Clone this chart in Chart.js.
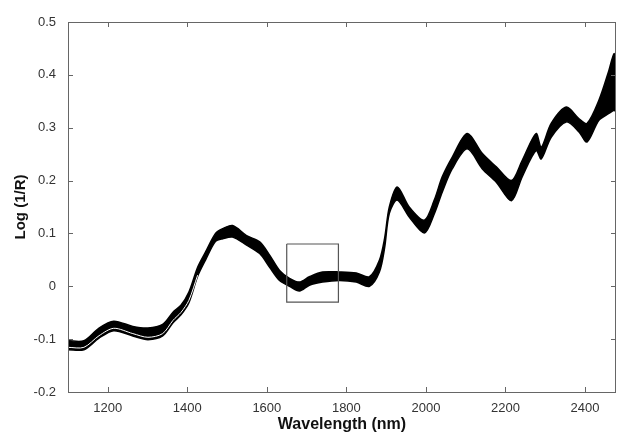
<!DOCTYPE html>
<html>
<head>
<meta charset="utf-8">
<script src="https://cdn.jsdelivr.net/npm/chart.js@4.4.1/dist/chart.umd.min.js"></script>
<style>
  html, body { margin: 0; padding: 0; background: #fff; }
  #wrap { width: 617px; height: 435px; }
</style>
</head>
<body>
<div id="wrap"><canvas id="spectra"></canvas></div>
<script>
const wavelength = [1100, 1140, 1178, 1215, 1263, 1301, 1338, 1364, 1384, 1404, 1426, 1446, 1471, 1489, 1514, 1549, 1582, 1607, 1632, 1657, 1682, 1707, 1740, 1783, 1825, 1858, 1883, 1896, 1908, 1928, 1958, 1996, 2021, 2041, 2066, 2104, 2142, 2177, 2215, 2242, 2277, 2290, 2315, 2353, 2385, 2405, 2435, 2460, 2473, 2478];
// top edge of the bundle of spectra
const upperEdge = [-0.103, -0.103, -0.079, -0.066, -0.076, -0.079, -0.072, -0.049, -0.036, -0.011, 0.036, 0.065, 0.100, 0.109, 0.115, 0.096, 0.084, 0.059, 0.030, 0.015, 0.008, 0.018, 0.027, 0.027, 0.025, 0.018, 0.049, 0.090, 0.150, 0.188, 0.150, 0.125, 0.163, 0.207, 0.244, 0.289, 0.251, 0.226, 0.200, 0.238, 0.289, 0.263, 0.308, 0.339, 0.317, 0.308, 0.352, 0.408, 0.440, 0.425];
// bottom edge (lowest spectrum)
const lowerEdge = [-0.120, -0.120, -0.098, -0.084, -0.094, -0.101, -0.094, -0.069, -0.054, -0.031, 0.019, 0.050, 0.085, 0.090, 0.093, 0.078, 0.062, 0.036, 0.011, 0.000, -0.009, 0.002, 0.008, 0.011, 0.008, 0.000, 0.027, 0.072, 0.138, 0.163, 0.131, 0.101, 0.137, 0.178, 0.222, 0.260, 0.222, 0.197, 0.162, 0.207, 0.257, 0.241, 0.282, 0.311, 0.292, 0.273, 0.314, 0.327, 0.333, 0.330];
// white gap between the lowest spectrum and the rest
const gapLine = [-0.1155, -0.1155, -0.0935, -0.0795, -0.0895, -0.0965, -0.0895, -0.0645, -0.0495, -0.0265, 0.021, null, null, null, null, null, null, null, null, null, null, null, null, null, null, null, null, null, null, null, null, null, null, null, null, null, null, null, null, null, null, null, null, null, null, null, null, null, null, null];

// zoom box drawn on the plot
const boxX = [1650, 1780, 1780, 1650, 1650];
const boxY = [0.08, 0.08, -0.03, -0.03, 0.08];

const xTicks = [1200, 1400, 1600, 1800, 2000, 2200, 2400];
const yTicks = [-0.2, -0.1, 0, 0.1, 0.2, 0.3, 0.4, 0.5];

const toPoints = (xs, ys) => xs.map((x, i) => ({ x: x, y: ys[i] }));

// box frame with inward ticks, matlab style
const framePlugin = {
  id: 'frame',
  afterDraw(chart) {
    const { ctx, chartArea: a, scales } = chart;
    ctx.save();
    ctx.strokeStyle = '#666';
    ctx.lineWidth = 1;
    ctx.strokeRect(a.left + 0.5, a.top + 0.5, a.right - a.left - 1, a.bottom - a.top);
    ctx.beginPath();
    xTicks.forEach(v => {
      const px = Math.round(scales.x.getPixelForValue(v)) + 0.5;
      ctx.moveTo(px, a.bottom); ctx.lineTo(px, a.bottom - 5);
      ctx.moveTo(px, a.top); ctx.lineTo(px, a.top + 5);
    });
    yTicks.forEach(v => {
      const py = Math.round(scales.y.getPixelForValue(v)) + 0.5;
      ctx.moveTo(a.left, py); ctx.lineTo(a.left + 5, py);
      ctx.moveTo(a.right, py); ctx.lineTo(a.right - 5, py);
    });
    ctx.stroke();
    ctx.restore();
  }
};

new Chart(document.getElementById('spectra'), {
  type: 'line',
  data: {
    datasets: [
      {
        label: 'upper',
        data: toPoints(wavelength, upperEdge),
        borderColor: '#000',
        backgroundColor: '#000',
        borderWidth: 1.5,
        fill: '+1',
        pointRadius: 0,
        tension: 0.3,
        order: 2
      },
      {
        label: 'lower',
        data: toPoints(wavelength, lowerEdge),
        borderColor: '#000',
        borderWidth: 1.5,
        fill: false,
        pointRadius: 0,
        tension: 0.3,
        order: 2
      },
      {
        label: 'gap',
        data: toPoints(wavelength, gapLine),
        borderColor: '#fff',
        borderWidth: 1,
        fill: false,
        pointRadius: 0,
        tension: 0.3,
        order: 0
      },
      {
        label: 'box',
        data: toPoints(boxX, boxY),
        borderColor: '#555',
        borderWidth: 1.2,
        fill: false,
        pointRadius: 0,
        tension: 0,
        order: 0
      }
    ]
  },
  options: {
    responsive: true,
    maintainAspectRatio: false,
    animation: false,
    layout: { padding: { left: 12, right: 1, top: 22, bottom: 0 } },
    plugins: {
      legend: { display: false },
      tooltip: { enabled: false }
    },
    scales: {
      x: {
        type: 'linear',
        min: 1100,
        max: 2478,
        grid: { display: false, drawTicks: false },
        border: { display: false },
        afterBuildTicks: axis => { axis.ticks = xTicks.map(v => ({ value: v })); },
        afterFit: axis => { axis.height = 43; },
        ticks: {
          padding: 9,
          color: '#333',
          font: { family: 'Liberation Sans, Arial, sans-serif', size: 13 },
          callback: v => String(v)
        },
        title: {
          display: true,
          text: 'Wavelength (nm)',
          color: '#111',
          padding: { top: 0, bottom: 1 },
          font: { family: 'Liberation Sans, Arial, sans-serif', size: 16, weight: 'bold' }
        }
      },
      y: {
        min: -0.2,
        max: 0.5,
        grid: { display: false, drawTicks: false },
        border: { display: false },
        afterBuildTicks: axis => { axis.ticks = yTicks.map(v => ({ value: v })); },
        afterFit: axis => { axis.width = 56; },
        ticks: {
          padding: 12,
          color: '#333',
          font: { family: 'Liberation Sans, Arial, sans-serif', size: 13 },
          callback: v => String(Math.round(v * 10) / 10)
        },
        title: {
          display: true,
          text: 'Log (1/R)',
          color: '#111',
          padding: { top: 0, bottom: 1 },
          font: { family: 'Liberation Sans, Arial, sans-serif', size: 15, weight: 'bold' }
        }
      }
    }
  },
  plugins: [framePlugin]
});
</script>
</body>
</html>
